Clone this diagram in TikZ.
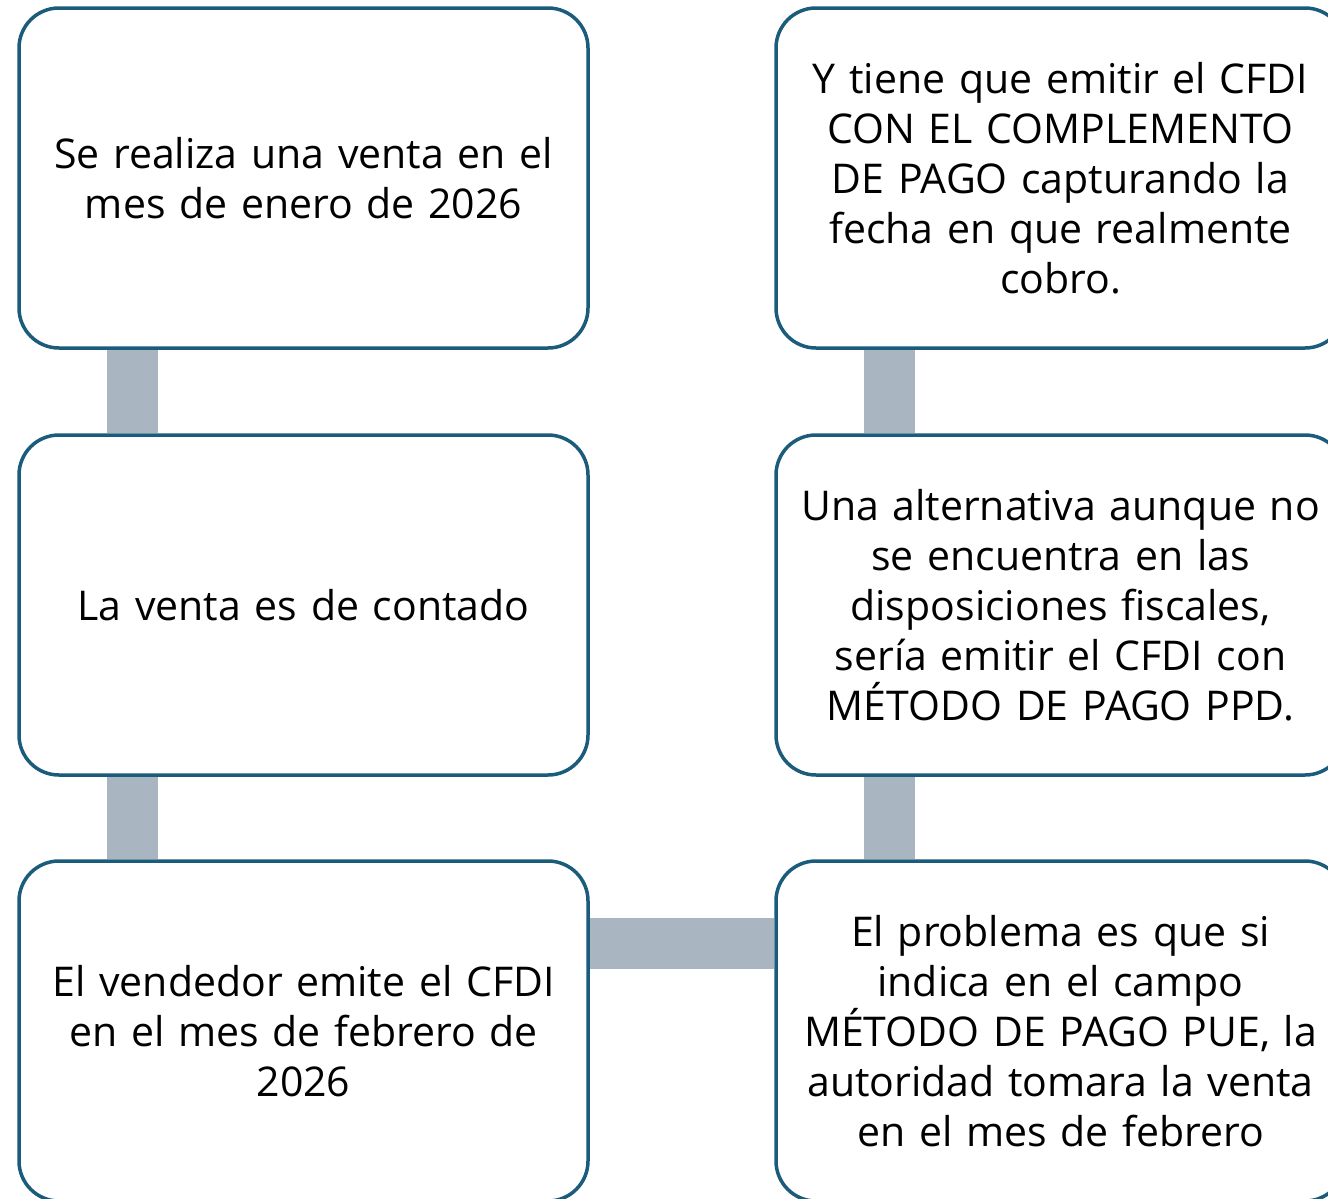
\documentclass[tikz,border=0pt]{standalone}
\usepackage{fontspec}
\setmainfont{Open Sans}
\usetikzlibrary{backgrounds}

\definecolor{boxblue}{HTML}{1B5B7B}
\definecolor{bargray}{HTML}{A9B6C1}

\begin{document}
\begin{tikzpicture}[x=0.5pt,y=-0.5pt,
  paso/.style={draw=boxblue, line width=1.75pt, rounded corners=20pt, fill=white,
    minimum width=284.5pt, minimum height=170pt, text width=280pt, align=center,
    inner sep=0pt, font=\fontsize{20.5}{25}\selectfont},
  barra/.style={draw=bargray, line width=25.5pt}]
\useasboundingbox (0,0) rectangle (1328,1199);
\clip (0,0) rectangle (1328,1199);

\node[paso] at (303.5,178) (venta) {Se realiza una venta en el\\ mes de enero de 2026};
\node[paso] at (303.5,605) (contado) {La venta es de contado};
\node[paso] at (303.5,1031) (emite) {El vendedor emite el CFDI\\ en el mes de febrero de\\ 2026};
\node[paso] at (1060.5,1031) (problema) {El problema es que si\\ indica en el campo\\ MÉTODO DE PAGO PUE, la\\ autoridad tomara la venta\\ en el mes de febrero};
\node[paso] at (1060.5,605) (alternativa) {Una alternativa aunque no\\ se encuentra en las\\ disposiciones fiscales,\\ sería emitir el CFDI con\\ MÉTODO DE PAGO PPD.};
\node[paso] at (1060.5,178) (complemento) {Y tiene que emitir el CFDI\\ CON EL COMPLEMENTO\\ DE PAGO capturando la\\ fecha en que realmente\\ cobro.};

\begin{scope}[on background layer]
\draw[barra] ([xshift=57.75pt]venta.south west) -- ([xshift=57.75pt]contado.north west);
\draw[barra] ([xshift=57.75pt]contado.south west) -- ([xshift=57.75pt]emite.north west);
\draw[barra] ([yshift=-42pt]emite.north east) -- ([yshift=-42pt]problema.north west);
\draw[barra] ([xshift=57.75pt]problema.north west) -- ([xshift=57.75pt]alternativa.south west);
\draw[barra] ([xshift=57.75pt]alternativa.north west) -- ([xshift=57.75pt]complemento.south west);
\end{scope}

\end{tikzpicture}
\end{document}
